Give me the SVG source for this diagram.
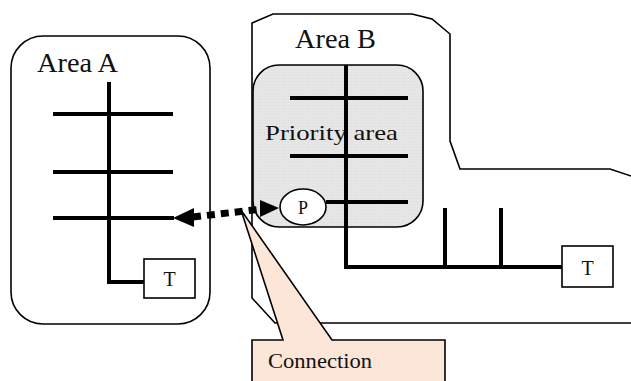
<svg xmlns="http://www.w3.org/2000/svg" width="631" height="381" viewBox="0 0 631 381">
  <style>
    .outline { fill: none; stroke: #000; stroke-width: 1.6; }
    .wire { fill: none; stroke: #000; stroke-width: 4; stroke-linecap: butt; }
    .box { fill: #fff; stroke: #000; stroke-width: 1.6; }
    text { font-family: 'Liberation Serif', 'DejaVu Serif', serif; fill: #111; }
  </style>
  <defs>
    <pattern id="grain" width="3" height="3" patternUnits="userSpaceOnUse">
      <rect width="3" height="3" fill="#e6e6e6"/>
      <rect width="1" height="1" fill="#dcdcdc"/>
    </pattern>
  </defs>

  <rect width="631" height="381" fill="#fff"/>

  <!-- Area A -->
  <g id="area-a">
    <rect class="outline" x="11" y="36" width="199" height="288" rx="32" ry="32"/>
    <text x="37" y="72" font-size="27" textLength="81" lengthAdjust="spacingAndGlyphs">Area A</text>
    <path class="wire" d="M109 82 V282 H144 M53 114 H173 M53 172 H173 M53 218 H174"/>
    <g id="terminal-a">
      <rect class="box" x="144" y="259" width="51" height="39"/>
      <text x="169.5" y="286" font-size="20" text-anchor="middle">T</text>
    </g>
  </g>

  <!-- Area B -->
  <g id="area-b">
    <path class="outline" d="M252 23 L273 14 H412 L432 19 L450 34 V141 L460 169 H610 L640 179 V323 H275 L252 298 Z"/>
    <text x="295" y="48" font-size="27" textLength="81" lengthAdjust="spacingAndGlyphs">Area B</text>
  </g>

  <!-- Priority area inside Area B -->
  <g id="priority-area">
    <rect x="253" y="65" width="170" height="162" rx="26" ry="26" fill="url(#grain)" stroke="#000" stroke-width="1.6"/>
    <text x="265" y="140" font-size="21" textLength="133" lengthAdjust="spacingAndGlyphs">Priority area</text>
  </g>

  <!-- Area B feeder -->
  <g id="feeder-b">
    <path class="wire" d="M346 65 V267 H562 M290 98 H408 M290 156 H408 M326 202 H408 M445 208 V267 M501 208 V267"/>
    <g id="terminal-b">
      <rect class="box" x="562" y="246" width="51" height="41"/>
      <text x="587.5" y="275" font-size="20" text-anchor="middle">T</text>
    </g>
  </g>

  <!-- P point -->
  <g id="point-p">
    <ellipse cx="303" cy="207" rx="23" ry="18" fill="#fff" stroke="#000" stroke-width="1.6"/>
    <text x="303" y="214" font-size="18" text-anchor="middle">P</text>
  </g>

  <!-- Connection link between the areas -->
  <g id="connectors">
    <line x1="193" y1="217" x2="262" y2="209" stroke="#000" stroke-width="7" stroke-dasharray="8 6"/>
    <polygon points="173,218 194,208 194,227" fill="#000"/>
    <polygon points="279,208 260,200 260,217" fill="#000"/>
  </g>

  <!-- Connection callout -->
  <g id="callout-connection">
    <path d="M252 390 V340 H283 L241 210 L332 340 H445 V390" fill="#fbe6d7" stroke="#000" stroke-width="1.6" stroke-linejoin="miter"/>
    <text x="268" y="368" font-size="22" textLength="104" lengthAdjust="spacingAndGlyphs">Connection</text>
  </g>
</svg>
